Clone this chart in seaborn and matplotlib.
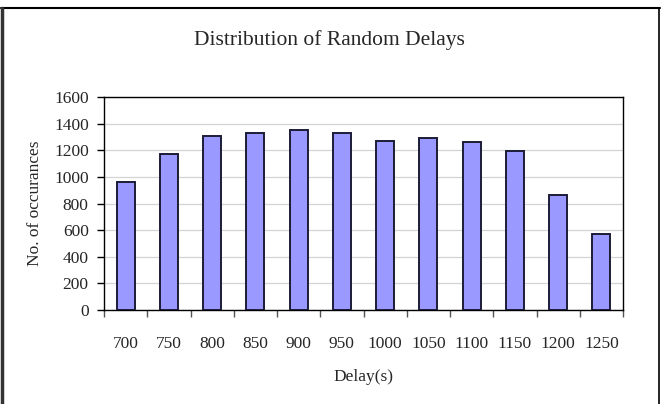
import matplotlib
matplotlib.use("Agg")
import matplotlib.pyplot as plt
from matplotlib.lines import Line2D
import seaborn as sns
import pandas as pd
import numpy as np

delays = ["700", "750", "800", "850", "900", "950", "1000", "1050", "1100", "1150", "1200", "1250"]
counts = [958, 1172, 1305, 1330, 1350, 1330, 1272, 1295, 1262, 1195, 866, 573]
yticks = [0, 200, 400, 600, 800, 1000, 1200, 1400, 1600]

sns.set_theme(style="white")
plt.rcParams['font.family'] = ['Liberation Serif', 'DejaVu Serif']

df = pd.DataFrame({"Delay": delays, "Count": counts})

fig = plt.figure(figsize=(6.62, 4.04), dpi=100)
ax = fig.add_axes([104/662, 94/404, (623-104)/662, (310-97)/404])

sns.barplot(data=df, x="Delay", y="Count", color="#9999FF", saturation=1,
            width=0.42, edgecolor="#1c1c38", linewidth=1.4, ax=ax, zorder=3)

ax.set_ylim(0, 1600)
ax.set_yticks(yticks)
ax.set_xlim(-0.5, len(delays) - 0.5)
ax.yaxis.grid(True, color="#d4d4d4", linewidth=0.9, zorder=0)
ax.set_axisbelow(True)

for s in ax.spines.values():
    s.set_visible(True)
    s.set_color("black")
    s.set_linewidth(1.0)

ax.tick_params(axis="y", which="major", left=True, length=5, width=1, color="black",
               labelsize=12.5, pad=6)
ax.set_xticks(np.arange(len(delays)))
ax.set_xticklabels(delays)
ax.tick_params(axis="x", which="major", bottom=False, length=0, labelsize=12.5, pad=19)
ax.set_xticks(np.arange(len(delays) + 1) - 0.5, minor=True)
ax.tick_params(axis="x", which="minor", bottom=True, length=5, width=1, color="#555555")

ax.set_xlabel("Delay(s)", fontsize=12.5, labelpad=12)
ax.set_ylabel("No. of occurances", fontsize=12.5, labelpad=8)
fig.text(329/662, 1 - 40/404, "Distribution of Random Delays", ha="center", va="center", fontsize=15.5)

# outer chart border
fig.add_artist(Line2D([0.002, 0.997], [1 - 7.5/404, 1 - 7.5/404], transform=fig.transFigure,
                      color="black", linewidth=1.5))
fig.add_artist(Line2D([1.5/662, 1.5/662], [0, 1 - 7.5/404], transform=fig.transFigure,
                      color="#333333", linewidth=2.5))
fig.add_artist(Line2D([659/662, 659/662], [0, 1 - 7.5/404], transform=fig.transFigure,
                      color="black", linewidth=1.2))

fig.savefig("out.png", dpi=100)
